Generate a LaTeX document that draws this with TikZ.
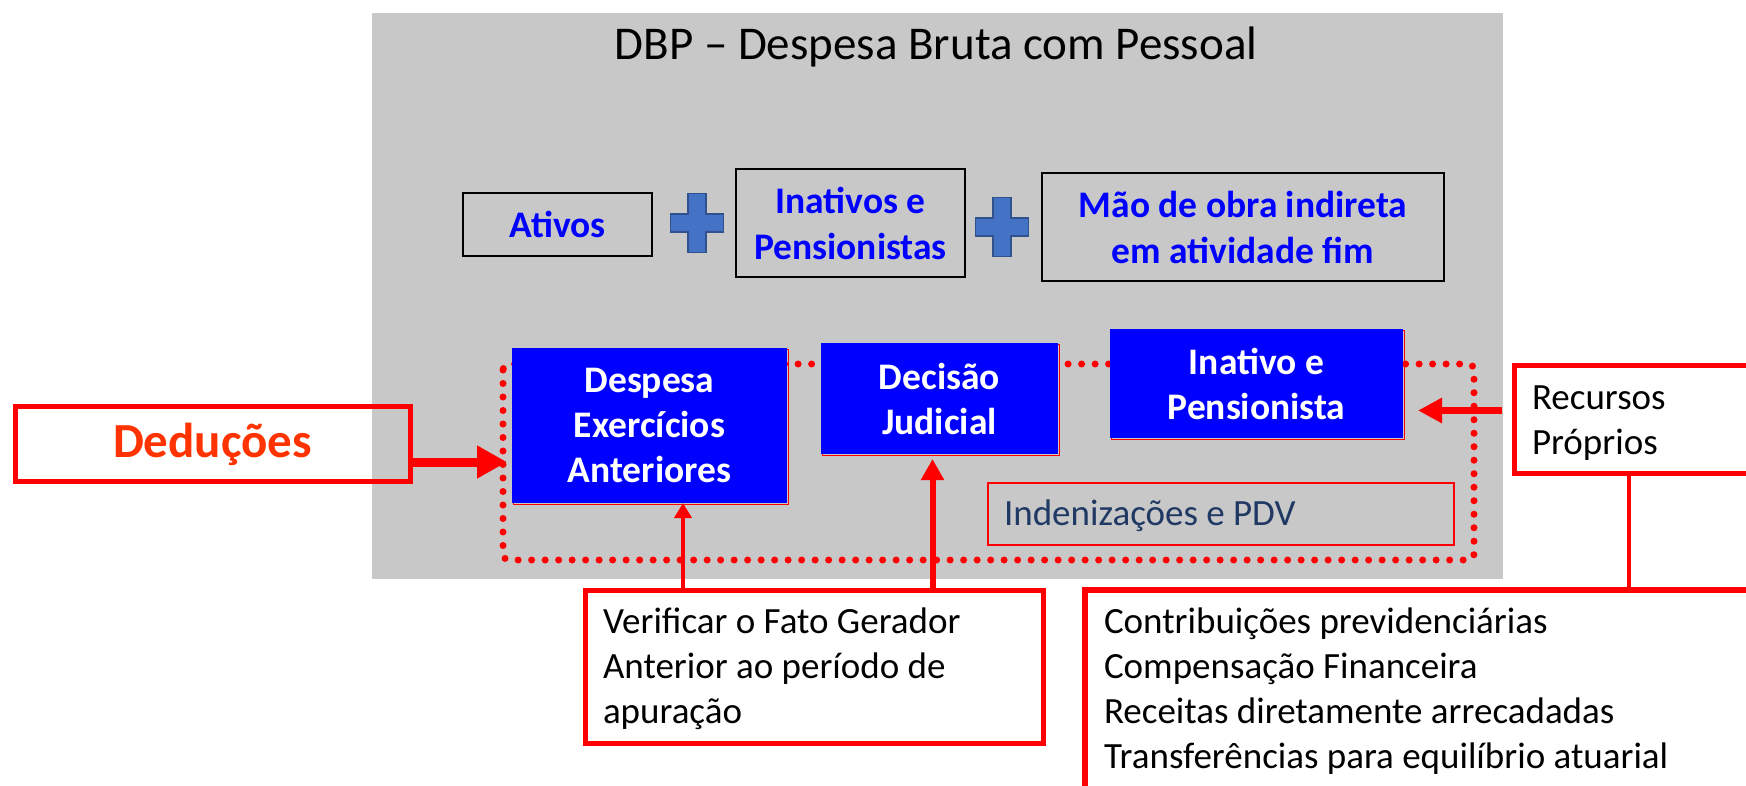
\documentclass[tikz,border=0pt]{standalone}
\usepackage{fontspec}
\setmainfont{Carlito}
\usetikzlibrary{arrows.meta,shadows}
\definecolor{bggray}{RGB}{200,200,200}
\definecolor{plusfill}{RGB}{68,114,196}
\definecolor{plusedge}{RGB}{47,82,143}
\definecolor{pureblue}{RGB}{0,0,255}
\definecolor{purered}{RGB}{255,0,0}
\definecolor{dedtext}{RGB}{255,51,0}
\definecolor{navytext}{RGB}{31,56,100}
\newcommand\tstrut{\rule{0pt}{34pt}}
\tikzset{
  every node/.style={outer sep=0pt},
  topbox/.style={draw=black, line width=1.5pt, font=\fontsize{37.5}{46}\selectfont\bfseries, text=pureblue, align=center, inner sep=0pt},
  bluebox/.style={fill=pureblue, general shadow={shadow xshift=1.5pt, shadow yshift=-1.5pt, draw=purered, line width=1pt}, font=\fontsize{37.5}{45}\selectfont\bfseries, text=white, align=center, inner sep=0pt},
  redbox/.style={draw=purered, line width=5pt, inner sep=0pt},
  bodytext/.style={font=\fontsize{37}{45}\selectfont, align=left, anchor=north west, inner sep=0pt},
  dedarrow/.style={draw=purered, line width=9pt, -{Triangle[length=30pt,width=31pt]}},
  recarrow/.style={draw=purered, line width=7pt, -{Triangle[length=24pt,width=24pt]}},
  uparrowa/.style={draw=purered, line width=4.5pt, -{Triangle[length=15pt,width=17pt]}},
  uparrowb/.style={draw=purered, line width=6pt, -{Triangle[length=21pt,width=22pt]}},
  crossmark/.pic={\draw[fill=plusfill, draw=plusedge, line width=1.2pt] (-9,-29.5) -- (9,-29.5) -- (9,-9) -- (26.5,-9) -- (26.5,9) -- (9,9) -- (9,29.5) -- (-9,29.5) -- (-9,9) -- (-26.5,9) -- (-26.5,-9) -- (-9,-9) -- cycle;},
}
\begin{document}
\begin{tikzpicture}[x=1pt,y=-1pt]
\useasboundingbox (0,0) rectangle (1746,785);
\clip (0,0) rectangle (1746,785);
% background panel
\fill[bggray] (372,13) rectangle (1503,579);
\node[font=\fontsize{47}{52}\selectfont, anchor=base] (title) at (936,59) {DBP – Despesa Bruta com Pessoal};
% top row
\node[topbox, minimum width=189pt, minimum height=63pt] (ativos) at (557.5,224.5) {Ativos};
\node[topbox, minimum width=229pt, minimum height=108pt] (inativos) at (850.5,223) {Inativos e\\Pensionistas};
\node[topbox, minimum width=402pt, minimum height=108pt] (mao) at (1243,227) {Mão de obra indireta\\em atividade fim};
\pic at (697,223) {crossmark};
\pic at (1002,227) {crossmark};
% dotted frame
\draw[purered, line width=7pt, dash pattern=on 0pt off 13.5pt, line cap=round, rounded corners=6pt] (503,364) rectangle (1474,560);
\node[draw=purered, line width=1.2pt, minimum width=466pt, minimum height=62pt] (inden) at (1221,514) {};
\node[bodytext, text=navytext] (indentext) at (1004,491) {\tstrut Indenizações e PDV};
% blue boxes
\node[bluebox, minimum width=275pt, minimum height=155pt] (desp) at (649.5,425.5) {Despesa\\Exercícios\\Anteriores};
\node[bluebox, minimum width=237pt, minimum height=111pt] (dec) at (939.5,398.5) {Decisão\\Judicial};
\node[bluebox, minimum width=293pt, minimum height=109pt] (inat) at (1256.5,383.5) {Inativo e\\Pensionista};
% red boxes
\node[redbox, minimum width=395pt, minimum height=75pt, font=\fontsize{49}{55}\selectfont\bfseries, text=dedtext] (ded) at (212.5,444) {Deduções};
\node[redbox, minimum width=260pt, minimum height=108pt, anchor=north west] (rec) at (1514.5,365) {};
\node[bodytext] (rectext) at (1532,375) {\tstrut Recursos\\Próprios};
\node[redbox, minimum width=458pt, minimum height=153pt] (verif) at (814,666.5) {};
\node[bodytext] (veriftext) at (603,599) {\tstrut Verificar o Fato Gerador\\Anterior ao período de\\apuração};
\node[redbox, line width=6pt, minimum width=690pt, minimum height=215pt, anchor=north west] (contrib) at (1085,590) {};
\node[bodytext] (contribtext) at (1104,599) {\tstrut Contribuições previdenciárias\\Compensação Financeira\\Receitas diretamente arrecadadas\\Transferências para equilíbrio atuarial};
% connectors
\coordinate (dedarr) at (0,462);
\coordinate (recarr) at (0,410.5);
\coordinate (va) at (683,0);
\coordinate (vb) at (932.5,0);
\coordinate (vc) at (1629,0);
\draw[dedarrow, shorten >=5pt] (dedarr -| ded.east) -- (dedarr -| desp.west);
\draw[recarrow, shorten <=13pt, shorten >=15pt] (recarr -| rec.west) -- (recarr -| inat.east);
\draw[uparrowa] (va |- verif.north) -- (va |- desp.south);
\draw[uparrowb, shorten >=5pt] (vb |- verif.north) -- (vb |- dec.south);
\draw[purered, line width=4pt] (vc |- rec.south) -- (vc |- contrib.north);
\end{tikzpicture}
\end{document}
